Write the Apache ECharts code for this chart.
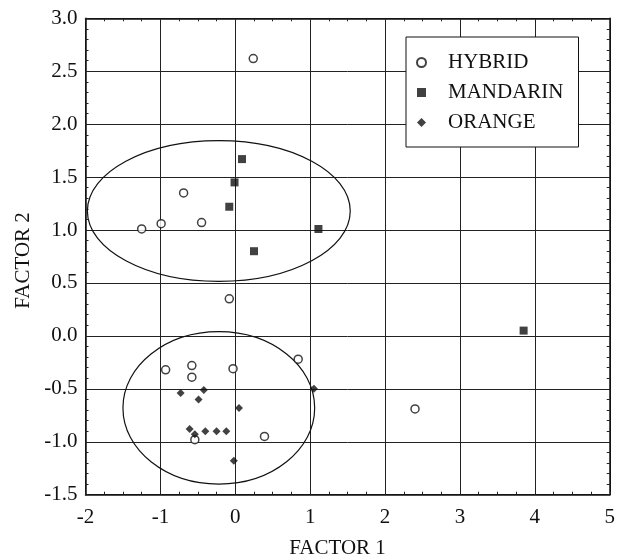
<!DOCTYPE html>
<html>
<head>
<meta charset="utf-8">
<script src="https://cdn.jsdelivr.net/npm/echarts@6/dist/echarts.min.js"></script>
<style>
html,body{margin:0;padding:0;background:#fff;}
#chart{width:618px;height:556px;}
</style>
</head>
<body>
<div id="chart"></div>
<script>
// ---- data ----
const seriesNames = ['HYBRID', 'MANDARIN', 'ORANGE'];
const hybridX = [0.24, -0.69, -0.99, -1.25, -0.45, -0.08, -0.93, -0.58, -0.58, -0.03, 0.84, -0.54, 0.39, 2.40];
const hybridY = [2.62, 1.35, 1.06, 1.01, 1.07, 0.35, -0.32, -0.28, -0.39, -0.31, -0.22, -0.98, -0.95, -0.69];
const mandarinX = [0.09, -0.01, -0.08, 1.11, 0.25, 3.85];
const mandarinY = [1.67, 1.45, 1.22, 1.01, 0.80, 0.05];
const orangeX = [-0.73, -0.42, -0.49, 0.05, 1.05, -0.61, -0.54, -0.40, -0.25, -0.12, -0.02];
const orangeY = [-0.54, -0.51, -0.60, -0.68, -0.50, -0.88, -0.93, -0.90, -0.90, -0.90, -1.18];
// ellipses: [centerX, centerY, radiusX, radiusY]
const upperEllipse = [-0.22, 1.18, 1.755, 0.665];
const lowerEllipse = [-0.22, -0.68, 1.28, 0.72];
const xTicks = { min: -2, max: 5, interval: 1 };
const yTicks = { min: -1.5, max: 3, interval: 0.5 };
const xName = 'FACTOR 1';
const yName = 'FACTOR 2';

const font = '"Liberation Serif", "Times New Roman", serif';
const zip = (xs, ys) => xs.map((x, i) => [x, ys[i]]);

const chart = echarts.init(document.getElementById('chart'), null, { renderer: 'canvas' });

const baseX = {
  type: 'value', min: xTicks.min, max: xTicks.max, interval: xTicks.interval,
  axisLine: { show: true, onZero: false, lineStyle: { color: '#111', width: 1.5 } },
  axisTick: { show: true, inside: true, length: 3, lineStyle: { color: '#222', width: 1 } },
  minorTick: { show: true, splitNumber: 4, length: 3, lineStyle: { color: '#222', width: 1 } },
  splitLine: { show: true, lineStyle: { color: '#222', width: 1 } },
};
const baseY = {
  type: 'value', min: yTicks.min, max: yTicks.max, interval: yTicks.interval,
  axisLine: { show: true, onZero: false, lineStyle: { color: '#111', width: 1.5 } },
  axisTick: { show: true, inside: true, length: 3, lineStyle: { color: '#222', width: 1 } },
  minorTick: { show: true, splitNumber: 5, length: 3, lineStyle: { color: '#222', width: 1 } },
  splitLine: { show: true, lineStyle: { color: '#222', width: 1 } },
};

function ellipseItem(params, api) {
  const c = api.coord([api.value(0), api.value(1)]);
  const s = api.size([api.value(2), api.value(3)]);
  return {
    type: 'ellipse',
    shape: { cx: c[0], cy: c[1], rx: s[0], ry: s[1] },
    style: { fill: 'none', stroke: '#111', lineWidth: 1.2 },
    silent: true
  };
}

const option = {
  animation: false,
  backgroundColor: '#fff',
  grid: { left: 85.5, right: 4.7, top: 18.3, bottom: 61.3, containLabel: false },
  xAxis: [
    Object.assign({}, baseX, {
      position: 'bottom',
      axisLabel: { show: true, margin: 12, color: '#111', fontFamily: font, fontSize: 21 },
    }),
    Object.assign({}, baseX, {
      position: 'top',
      axisLabel: { show: false },
      splitLine: { show: false },
    })
  ],
  yAxis: [
    Object.assign({}, baseY, {
      position: 'left',
      axisLabel: { show: true, margin: 8, color: '#111', fontFamily: font, fontSize: 21,
        formatter: v => v.toFixed(1) },
    }),
    Object.assign({}, baseY, {
      position: 'right',
      axisLabel: { show: false },
      splitLine: { show: false },
    })
  ],
  legend: {
    show: true,
    data: seriesNames,
    orient: 'vertical',
    left: 406, top: 37,
    backgroundColor: '#fff',
    borderColor: '#111', borderWidth: 1, borderRadius: 0,
    padding: [15, 15, 14, 10],
    itemWidth: 9, itemHeight: 9, itemGap: 9,
    textStyle: { fontFamily: font, fontSize: 21, color: '#111', lineHeight: 21, padding: [0, 0, 0, 17] },
    selectedMode: false
  },
  graphic: [
    { type: 'text', style: { text: xName, font: '21px ' + font, fill: '#111',
      textAlign: 'center', textVerticalAlign: 'middle' }, x: 337.5, y: 548.5 },
    { type: 'text', style: { text: yName, font: '21px ' + font, fill: '#111',
      textAlign: 'center', textVerticalAlign: 'middle' }, x: 23.5, y: 260.5, rotation: Math.PI / 2 }
  ],
  series: [
    {
      name: 'ellipses', type: 'custom', renderItem: ellipseItem,
      data: [upperEllipse, lowerEllipse], silent: true, z: 1, clip: false
    },
    {
      name: seriesNames[0], type: 'scatter', symbol: 'circle', symbolSize: 8,
      itemStyle: { color: '#fff', borderColor: '#111', borderWidth: 1.5 },
      data: zip(hybridX, hybridY), z: 3
    },
    {
      name: seriesNames[1], type: 'scatter', symbol: 'rect', symbolSize: 8,
      itemStyle: { color: '#111' },
      data: zip(mandarinX, mandarinY), z: 3
    },
    {
      name: seriesNames[2], type: 'scatter', symbol: 'diamond', symbolSize: 8,
      itemStyle: { color: '#111' },
      data: zip(orangeX, orangeY), z: 3
    }
  ]
};
chart.setOption(option);
</script>
</body>
</html>
